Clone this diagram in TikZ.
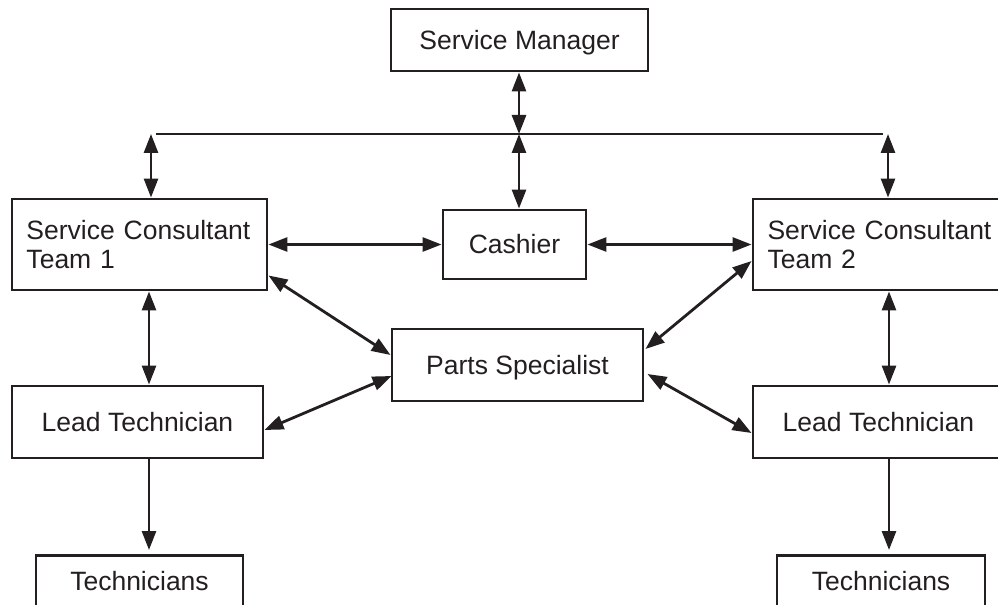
\documentclass[tikz,border=0pt]{standalone}
\usepackage{fontspec}
\setmainfont{Liberation Sans}
\usetikzlibrary{arrows.meta,calc}
\definecolor{ink}{RGB}{35,31,32}
\begin{document}
\begin{tikzpicture}[x=1bp,y=-1bp,
  box/.style={draw=ink, line width=2.9bp, inner sep=0pt, text=ink,
    font=\fontsize{26.5bp}{29bp}\selectfont, text height=19bp, text depth=0bp},
  twoline/.style={box, text width=226bp, align=left, text depth=29bp,
    minimum width=255bp, minimum height=91bp},
  lower/.style={box, anchor=north, text height=35bp, text depth=35bp},
  link/.style={draw=ink, line width=2.8bp},
  both/.style={link, {Triangle[length=19bp,width=14bp]}-{Triangle[length=19bp,width=14bp]}},
  onedir/.style={link, -{Triangle[length=19bp,width=14bp]}, shorten >=4bp}]
\clip (0,0) rectangle (998,605);

% boxes
\node[box, minimum width=257bp, minimum height=62bp] (sm) at (519.5,40) {Service Manager};
\node[twoline] (sc1) at (139.5,244.5) {Service Consultant\\Team 1};
\node[twoline] (sc2) at (880.5,244.5) {Service Consultant\\Team 2};
\node[box, minimum width=143bp, minimum height=69bp] (cashier) at (514.5,244.5) {Cashier};
\node[box, minimum width=251bp, minimum height=72bp] (ps) at (517.5,365) {Parts Specialist};
\node[box, minimum width=251bp, minimum height=72bp] (lt1) at (137.5,422) {Lead Technician};
\node[box, minimum width=251bp, minimum height=72bp] (lt2) at (878.5,422) {Lead Technician};
\node[lower, minimum width=207bp] (tech1) at (139.5,554) {Technicians};
\node[lower, minimum width=208bp] (tech2) at (881,554) {Technicians};

% distribution bus below the manager
\coordinate (busL) at (156,134);
\coordinate (busR) at (883,134);
\coordinate (busC) at (519,134);
\coordinate (drop1) at (151,134);
\coordinate (drop2) at (888,134);
\coordinate (col1) at (149,0);
\coordinate (col2) at (889,0);
\draw[link] (busL) -- (busR);

% manager to bus, bus to the three desks
\draw[both] (busC |- sm.south) -- (busC);
\draw[both] (drop1) -- (drop1 |- sc1.north);
\draw[both] (busC) -- (busC |- cashier.north);
\draw[both] (drop2) -- (drop2 |- sc2.north);

% cashier links
\draw[both] (sc1.east) -- (cashier.west);
\draw[both] (cashier.east) -- (sc2.west);

% parts specialist links
\draw[both] ($(sc1.south east)+(0,-16)$) -- ($(ps.west)+(0,-10)$);
\draw[both] ($(lt1.east)+(0,8)$) -- ($(ps.west)+(1,11)$);
\draw[both] ($(sc2.west)+(0,16.5)$) -- ($(ps.east)+(1,-16)$);
\draw[both] ($(ps.east)+(3,9)$) -- ($(lt2.west)+(0,11)$);

% consultants to lead technicians to technicians
\draw[both] (col1 |- sc1.south) -- (col1 |- lt1.north);
\draw[both] (col2 |- sc2.south) -- (col2 |- lt2.north);
\draw[onedir] (col1 |- lt1.south) -- (col1 |- tech1.north);
\draw[onedir] (col2 |- lt2.south) -- (col2 |- tech2.north);
\end{tikzpicture}
\end{document}
